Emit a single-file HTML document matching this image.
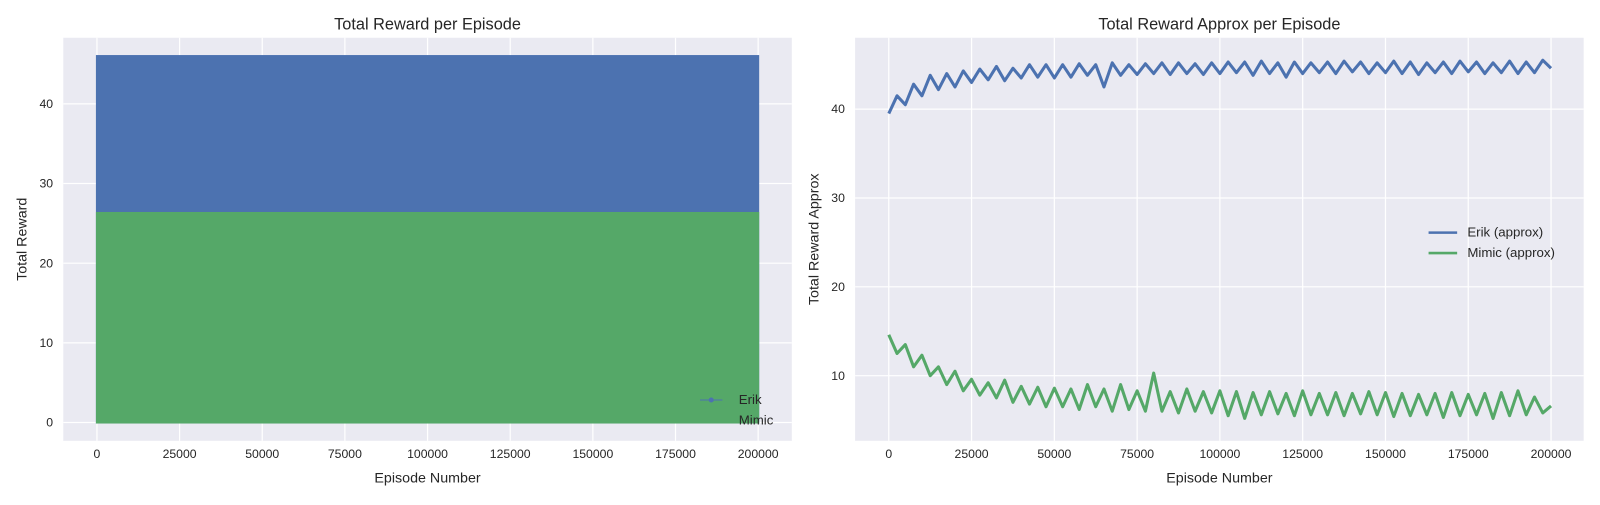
<!DOCTYPE html>
<html><head><meta charset="utf-8"><style>
body{margin:0;background:#fff;}
svg text{font-family:"Liberation Sans","DejaVu Sans",sans-serif;fill:#262626;}
</style></head><body>
<svg id="chart" width="1600" height="500" viewBox="0 0 1568 490"></svg>
<script>
// Left chart data: reward range per agent across episodes
const leftEpisodes = [0, 200000];
const erikMin = [0, 0];
const erikMax = [46, 46];
const mimicMin = [0, 0];
const mimicMax = [26.3, 26.3];
const leftYTicks = [0, 10, 20, 30, 40];
const xTicks = [0, 25000, 50000, 75000, 100000, 125000, 150000, 175000, 200000];
const rightYTicks = [10, 20, 30, 40];
// Right chart data: approx reward, sampled every 2500 episodes
const approxEpisodeStep = 2500;
const erikApprox = [39.5,41.5,40.5,42.8,41.5,43.8,42.2,44,42.5,44.3,43,44.5,43.3,44.8,43.2,44.6,43.5,45,43.6,45,43.5,45,43.6,45.1,43.8,45,42.5,45.2,43.8,45,43.9,45.1,44,45.2,43.9,45.2,44,45.1,43.9,45.2,44,45.3,44.1,45.3,43.8,45.4,44,45.2,43.6,45.3,44,45.2,44.1,45.3,44,45.4,44.2,45.3,44,45.2,44.1,45.4,44,45.3,43.9,45.2,44.1,45.3,44,45.4,44.2,45.3,44,45.2,44.1,45.4,44,45.3,44.1,45.5,44.6];
const mimicApprox = [14.6,12.5,13.5,11,12.3,10,11,9,10.5,8.3,9.6,7.8,9.2,7.5,9.5,7,8.8,6.8,8.7,6.5,8.6,6.5,8.5,6.2,9,6.5,8.5,6,9,6.2,8.3,6,10.3,6,8.2,5.8,8.5,6,8.2,5.8,8.3,5.5,8.2,5.2,8.1,5.6,8.2,5.7,8,5.5,8.3,5.6,8,5.6,8.1,5.5,8,5.7,8.2,5.6,8.1,5.4,8,5.5,7.9,5.6,8,5.3,8.1,5.5,7.9,5.6,8,5.2,8.1,5.5,8.3,5.6,7.6,5.8,6.6];

const NS='http://www.w3.org/2000/svg';
const svg=document.getElementById('chart');
function mk(tag,attrs,parent){const e=document.createElementNS(NS,tag);for(const k in attrs)e.setAttribute(k,attrs[k]);(parent||svg).appendChild(e);return e;}
function fmt(v){return String(v);}

function axes(cfg){
  const g=mk('g',{});
  
  
  const sx=v=>cfg.x0+(v-cfg.xmin)/(cfg.xmax-cfg.xmin)*(cfg.x1-cfg.x0);
  const sy=v=>cfg.y1-(v-cfg.ymin)/(cfg.ymax-cfg.ymin)*(cfg.y1-cfg.y0);
  const bg=mk('rect',{x:cfg.x0,y:cfg.y0,width:cfg.x1-cfg.x0,height:cfg.y1-cfg.y0,fill:'#eaeaf2'},g);
  
  xTicks.forEach(t=>{const x=sx(t);
    mk('line',{x1:x,x2:x,y1:cfg.y0,y2:cfg.y1,stroke:'#fff','stroke-width':1.2},g);
    const tx=mk('text',{x:x,y:cfg.y1+17,'text-anchor':'middle','font-size':12},g);tx.textContent=fmt(t);
    });
  cfg.yticks.forEach(t=>{const y=sy(t);
    mk('line',{x1:cfg.x0,x2:cfg.x1,y1:y,y2:y,stroke:'#fff','stroke-width':1.2},g);
    const tx=mk('text',{x:cfg.x0-10,y:y+4,'text-anchor':'end','font-size':12},g);tx.textContent=fmt(t);
    });
  const ti=mk('text',{x:(cfg.x0+cfg.x1)/2,y:cfg.y0-8,'text-anchor':'middle','font-size':16},g);ti.textContent=cfg.title;
  
  const xl=mk('text',{x:(cfg.x0+cfg.x1)/2,y:cfg.y1+41,'text-anchor':'middle','font-size':14},g);xl.textContent='Episode Number';
  
  const yx=cfg.yLabelX, yy=(cfg.y0+cfg.y1)/2;
  const yl=mk('text',{x:yx,y:yy,'text-anchor':'middle','font-size':14,transform:`rotate(-90 ${yx} ${yy})`},g);yl.textContent=cfg.ylabel;
  
  return {g,sx,sy};
}

// Left chart
const L=axes({name:'total-reward-chart',x0:62,x1:776,y0:37,y1:432,xmin:-10185,xmax:210185,ymin:-2.3,ymax:48.3,yticks:leftYTicks,title:'Total Reward per Episode',ylabel:'Total Reward',yLabelX:26});
function band(ax,mins,maxs,color,name){
  const x0=ax.sx(leftEpisodes[0]),x1=ax.sx(leftEpisodes[leftEpisodes.length-1]);
  const r=mk('rect',{x:x0,y:ax.sy(maxs[0]),width:x1-x0,height:ax.sy(mins[0])-ax.sy(maxs[0]),fill:color,stroke:color,'stroke-width':2},ax.g);
  
}
band(L,erikMin,erikMax,'#4c72b0','erik-reward-series');
band(L,mimicMin,mimicMax,'#55a868','mimic-reward-series');
// left legend
(function(){const g=mk('g',{},L.g);
  mk('line',{x1:686,x2:708,y1:392,y2:392,stroke:'#4c72b0','stroke-width':1},g);
  mk('circle',{cx:697,cy:392,r:2.5,fill:'#4c72b0'},g);
  const a=mk('text',{x:724,y:396,'font-size':13},g);a.textContent='Erik';
  const b=mk('text',{x:724,y:416,'font-size':13},g);b.textContent='Mimic';
})();

// Right chart
const R=axes({name:'total-reward-approx-chart',x0:838,x1:1552,y0:37,y1:432,xmin:-10170,xmax:209860,ymin:2.67,ymax:48.03,yticks:rightYTicks,title:'Total Reward Approx per Episode',ylabel:'Total Reward Approx',yLabelX:802});
function line(ax,vals,color,name){
  const d=vals.map((v,i)=>(i?'L':'M')+ax.sx(i*approxEpisodeStep).toFixed(1)+','+ax.sy(v).toFixed(1)).join(' ');
  const p=mk('path',{d,fill:'none',stroke:color,'stroke-width':3,'stroke-linejoin':'round'},ax.g);
  
}
line(R,erikApprox,'#4c72b0','erik-approx-line');
line(R,mimicApprox,'#55a868','mimic-approx-line');
(function(){const g=mk('g',{},R.g);
  mk('line',{x1:1400,x2:1428,y1:228,y2:228,stroke:'#4c72b0','stroke-width':2.5},g);
  mk('line',{x1:1400,x2:1428,y1:248,y2:248,stroke:'#55a868','stroke-width':2.5},g);
  const a=mk('text',{x:1438,y:232,'font-size':13},g);a.textContent='Erik (approx)';
  const b=mk('text',{x:1438,y:252,'font-size':13},g);b.textContent='Mimic (approx)';
})();
</script>
</body></html>
